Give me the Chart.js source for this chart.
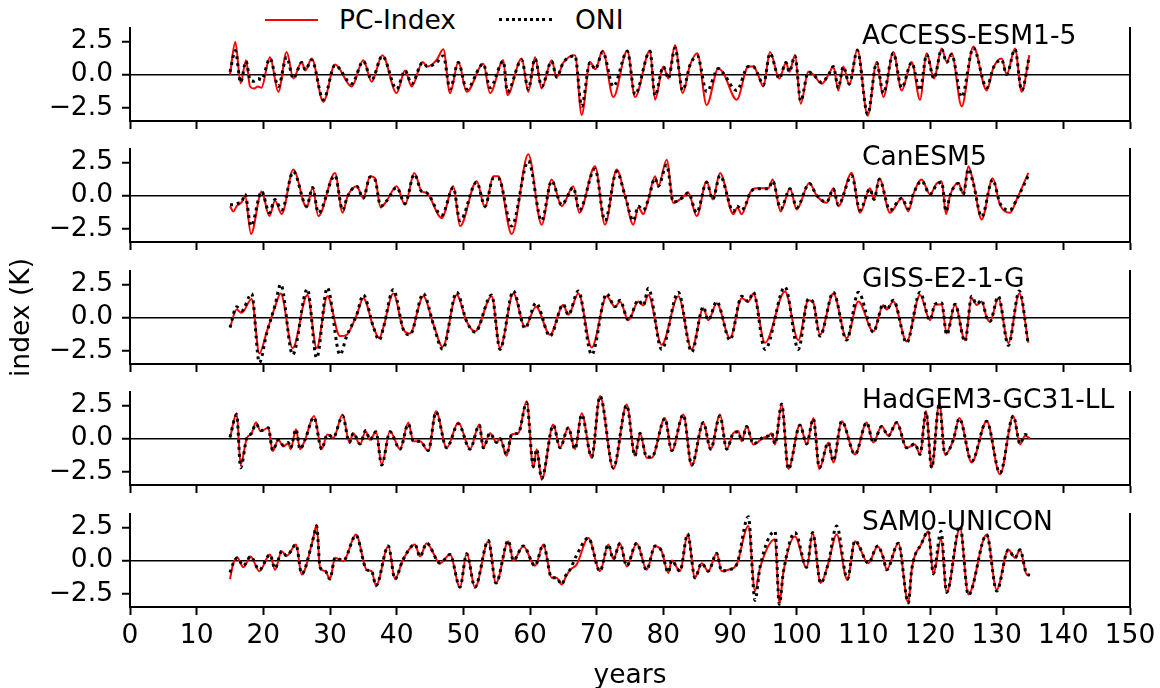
<!DOCTYPE html>
<html>
<head>
<meta charset="utf-8">
<script src="https://cdn.jsdelivr.net/npm/chart.js@4.4.0/dist/chart.umd.min.js"></script>
<style>
  body { margin: 0; background: #fff; }
  #wrap { position: relative; width: 1160px; height: 688px; overflow: hidden; font-family: "DejaVu Sans", sans-serif; }
  #wrap canvas { position: absolute; left: 0; }
  .name { position: absolute; left: 862px; font-size: 26.5px; line-height: 1; color: #000; white-space: nowrap; z-index: 5; }
  .leg-text { position: absolute; font-size: 26.5px; line-height: 1; color: #000; white-space: nowrap; }
  .leg-line { position: absolute; height: 0; width: 53px; }
</style>
</head>
<body>
<div id="wrap">
  <div class="leg-line" style="left:265px; top:19px; border-top:2px solid #ff0000;"></div>
  <div class="leg-text" style="left:339px; top:7px;">PC-Index</div>
  <div class="leg-line" style="left:499px; top:18px; border-top:3px dotted #000;"></div>
  <div class="leg-text" style="left:575px; top:7px;">ONI</div>
</div>
<script>
// ---- data (turning points of each curve) ----
const panelNames = ['ACCESS-ESM1-5', 'CanESM5', 'GISS-E2-1-G', 'HadGEM3-GC31-LL', 'SAM0-UNICON'];

const accessYears = [15.0, 15.8, 16.6, 17.4, 18.0, 18.6, 19.2, 19.7, 21.0, 22.25,
  23.5, 24.5, 25.75, 26.3, 27.25, 29.0, 30.75, 33.25, 35.0, 36.25,
  37.85, 40.0, 41.25, 42.25, 43.9, 44.6, 46.0, 47.0, 48.0, 49.25,
  50.5, 53.0, 54.0, 56.0, 56.6, 58.75, 59.75, 60.75, 61.75, 63.25,
  64.0, 65.0, 66.75, 67.75, 69.0, 69.8, 70.9, 72.5, 74.6, 75.75,
  78.0, 78.75, 80.0, 80.75, 81.75, 82.9, 84.0, 85.1, 86.5, 88.25,
  89.0, 91.0, 92.75, 93.5, 94.2, 95.0, 96.0, 97.4, 98.4, 98.9,
  99.75, 100.6, 101.75, 102.5, 103.75, 104.8, 105.5, 106.25, 107.0, 107.9,
  109.1, 110.65, 112.0, 113.0, 114.5, 115.75, 117.25, 118.5, 119.5, 120.6,
  121.75, 122.5, 123.25, 124.75, 126.5, 128.5, 129.5, 130.75, 131.5, 132.75,
  133.75, 134.9];
const accessPc = [0.0, 2.45, -0.65, 1.07, -0.9, -1.05, -0.9, -1.0, 1.3, -1.3,
  1.7, -0.3, 0.95, 0.3, 1.2, -2.05, 0.75, -0.9, 1.07, -0.55,
  1.45, -1.4, 0.3, -0.9, 0.95, 0.6, 1.1, 1.9, -1.4, 0.95,
  -1.3, 0.8, -1.4, 1.07, -1.55, 1.2, -1.3, 1.3, -1.05, 1.07,
  -0.2, 0.9, 1.45, -3.05, 0.95, 0.4, 1.8, -1.7, 1.8, -1.7,
  1.8, -1.9, 0.6, -0.3, 2.2, -1.4, 0.7, 1.6, -2.3, 0.45,
  0.1, -1.9, 0.6, 0.6, 0.0, -0.9, 1.7, -0.3, 0.9, 0.2,
  1.45, -2.2, 0.2, 0.0, -0.7, 0.0, 0.6, -1.2, 0.6, -0.8,
  1.9, -3.1, 0.95, -1.7, 1.7, -1.2, 0.95, -1.9, 1.6, -0.3,
  1.95, 0.95, 1.6, -2.4, 2.1, -1.2, 0.5, 1.2, 0.0, 1.95,
  -1.3, 1.45];
const accessOni = [0.2, 1.8, -0.6, 1.0, -0.4, -0.5, -0.3, -0.4, 1.2, -0.9,
  1.3, -0.3, 0.9, 0.35, 1.1, -1.9, 0.7, -0.7, 1.0, -0.4,
  1.4, -1.1, 0.3, -0.7, 0.9, 0.6, 0.9, 1.4, -1.1, 0.9,
  -1.1, 0.8, -1.0, 1.0, -1.3, 1.1, -1.1, 1.2, -0.9, 1.0,
  -0.2, 0.9, 1.4, -2.4, 0.9, 0.4, 1.7, -0.9, 1.75, -1.5,
  1.75, -1.6, 0.6, -0.3, 2.0, -1.2, 0.7, 1.4, -1.3, 0.45,
  0.1, -1.2, 0.6, 0.6, 0.0, -0.8, 1.6, -0.3, 0.9, 0.2,
  1.4, -2.0, 0.2, 0.0, -0.6, 0.0, 0.6, -1.0, 0.6, -0.7,
  1.8, -3.0, 0.9, -1.4, 1.6, -1.0, 0.9, -1.2, 1.5, -0.3,
  1.9, 0.9, 1.5, -1.7, 2.0, -1.0, 0.5, 1.1, 0.0, 1.9,
  -1.2, 1.4];

const canYears = [15.0, 15.5, 16.0, 16.75, 17.25, 18.15, 19.75, 20.9, 21.75, 22.75,
  24.5, 26.5, 27.4, 28.25, 30.75, 31.9, 32.6, 34.0, 35.0, 36.0,
  36.75, 37.6, 38.5, 40.0, 41.25, 42.65, 43.75, 44.5, 46.75, 48.5,
  49.5, 52.0, 53.25, 54.5, 55.25, 57.25, 59.75, 61.75, 63.25, 64.75,
  66.5, 67.4, 69.75, 71.25, 73.0, 74.25, 75.5, 76.25, 77.0, 77.75,
  78.75, 79.25, 80.5, 81.5, 82.75, 83.75, 85.0, 86.5, 87.4, 88.5,
  90.5, 91.1, 91.75, 92.5, 93.0, 94.0, 95.75, 96.4, 97.6, 99.0,
  100.0, 101.9, 103.0, 104.5, 105.5, 106.25, 108.25, 109.5, 111.0, 111.6,
  112.4, 114.0, 115.75, 116.75, 117.5, 118.75, 120.0, 121.0, 121.75, 122.4,
  123.0, 124.25, 125.0, 125.75, 126.5, 127.75, 129.4, 130.5, 132.0, 133.0,
  134.75];
const canPc = [-0.8, -1.2, -0.8, -0.5, 0.0, -2.9, 0.3, -1.55, -0.4, -1.4,
  1.95, -0.9, 0.6, -1.55, 1.7, -1.3, -0.1, 0.7, -0.2, 1.45,
  1.3, -0.9, -0.4, 0.7, -0.7, 1.7, 0.3, 0.2, -1.7, 0.7,
  -2.3, 1.07, -0.9, 1.45, 1.45, -2.9, 3.1, -2.2, 1.2, -0.8,
  0.7, -1.3, 2.2, -2.2, 1.95, 0.0, -2.2, -0.9, -1.4, -0.3,
  1.45, 0.7, 2.7, -0.55, -0.2, 0.2, -1.55, 1.07, -0.3, 1.7,
  -1.4, -0.9, -1.4, -0.55, 0.2, 0.55, 0.55, 1.2, -1.2, 0.55,
  -1.05, 0.95, 0.0, -0.55, 0.55, -0.8, 1.7, -1.3, 0.55, -0.3,
  1.3, -1.3, -0.2, -1.2, 0.1, 1.2, 0.1, 0.9, 1.07, -1.4,
  0.0, 0.95, 0.1, 2.2, 1.0, -1.8, 1.3, -0.7, -1.3, -0.3,
  1.7];
const canOni = [-0.7, -0.7, -0.6, -0.5, 0.1, -2.3, 0.3, -1.3, -0.3, -1.1,
  1.8, -0.8, 0.6, -1.3, 1.5, -1.1, -0.1, 0.7, -0.2, 1.4,
  1.2, -0.8, -0.4, 0.6, -0.6, 1.6, 0.3, 0.2, -1.5, 0.6,
  -1.9, 1.0, -0.8, 1.3, 1.3, -2.3, 2.6, -1.9, 1.1, -0.7,
  0.6, -1.1, 2.0, -1.9, 1.8, 0.0, -1.9, -0.8, -1.1, -0.3,
  1.3, 0.7, 2.3, -0.5, -0.2, 0.2, -1.3, 1.0, -0.3, 1.5,
  -1.2, -0.8, -1.1, -0.5, 0.2, 0.5, 0.5, 1.1, -1.0, 0.5,
  -0.9, 0.9, 0.0, -0.5, 0.5, -0.7, 1.5, -1.1, 0.5, -0.3,
  1.2, -1.1, -0.2, -1.0, 0.1, 1.1, 0.1, 0.8, 1.0, -1.2,
  0.0, 0.9, 0.1, 2.0, 0.9, -1.6, 1.2, -0.6, -1.1, -0.3,
  1.5];

const gissYears = [15.0, 16.0, 16.75, 18.25, 19.4, 20.5, 21.75, 22.6, 24.4, 26.6,
  28.0, 29.6, 31.5, 32.5, 34.0, 35.0, 36.5, 37.4, 38.0, 39.5,
  41.0, 42.0, 44.0, 45.5, 46.9, 49.0, 50.5, 51.75, 54.25, 55.5,
  57.5, 59.25, 60.9, 63.0, 65.0, 65.75, 67.25, 69.25, 71.5, 72.75,
  73.5, 74.75, 76.25, 77.0, 77.75, 79.75, 82.25, 84.25, 86.0, 86.75,
  88.0, 90.0, 91.75, 92.75, 93.5, 95.25, 98.25, 100.25, 101.75, 102.5,
  103.5, 105.5, 107.5, 109.25, 111.5, 113.0, 113.5, 114.5, 116.5, 118.5,
  120.0, 120.75, 121.75, 122.5, 123.75, 125.25, 126.25, 127.0, 127.75, 128.5,
  129.0, 130.25, 131.75, 133.4, 134.75];
const gissPc = [-0.75, 0.6, 0.35, 1.4, -2.7, -1.1, 0.8, 1.8, -2.3, 1.7,
  -2.3, 1.6, -1.4, -1.3, 0.2, 1.45, -0.7, -1.55, -0.75, 1.8,
  -0.9, -1.2, 1.6, -0.5, -2.2, 1.7, -0.3, -1.05, 1.6, -2.3,
  1.8, -0.7, 0.8, -1.3, 0.95, 0.2, 1.8, -2.25, 1.6, 0.8,
  1.2, -0.2, 1.2, 0.9, 1.7, -2.05, 1.6, -2.4, 0.7, -0.2,
  1.07, -1.55, 1.45, 1.2, 1.8, -1.9, 1.95, -1.7, 1.3, 1.1,
  -1.3, 1.8, -1.55, 1.2, -1.05, 0.95, 0.6, 1.2, -1.8, 1.7,
  -0.2, 0.95, 1.0, -1.2, 0.95, -1.7, 1.45, 0.95, 1.2, 0.0,
  -0.3, 1.45, -1.9, 1.8, -1.9];
const gissOni = [-0.75, 0.8, 0.5, 1.8, -3.4, -1.2, 0.9, 2.5, -2.8, 2.15,
  -3.05, 2.25, -2.8, -1.4, 0.2, 1.7, -0.7, -1.7, -0.8, 2.1,
  -0.9, -1.3, 1.8, -0.5, -2.4, 1.9, -0.3, -1.1, 1.7, -2.4,
  2.0, -0.8, 1.1, -1.4, 1.0, 0.2, 2.0, -2.8, 1.8, 0.8,
  1.3, -0.2, 1.3, 0.9, 2.2, -2.4, 1.9, -2.6, 0.8, -0.2,
  1.2, -1.7, 1.6, 1.2, 1.9, -2.4, 2.3, -2.4, 1.4, 1.1,
  -1.4, 1.9, -1.7, 1.9, -1.1, 1.0, 0.6, 1.3, -1.9, 1.9,
  -0.2, 1.0, 1.1, -1.3, 1.0, -1.8, 1.6, 1.0, 1.3, 0.0,
  -0.3, 1.6, -2.1, 2.0, -2.05];

const hadYears = [15.0, 16.0, 16.6, 17.5, 18.25, 18.9, 19.6, 20.75, 21.4, 22.25,
  23.0, 23.75, 24.1, 24.9, 25.5, 26.25, 27.6, 28.75, 29.6, 30.5,
  31.9, 32.9, 33.5, 34.5, 35.35, 36.0, 36.9, 37.75, 39.0, 40.5,
  41.75, 42.5, 43.5, 44.75, 45.9, 47.5, 49.25, 51.0, 52.4, 53.0,
  54.0, 55.0, 55.5, 56.5, 57.25, 58.25, 59.5, 60.5, 61.0, 61.75,
  63.5, 64.5, 65.75, 66.75, 67.75, 69.25, 70.5, 72.5, 74.5, 75.75,
  76.5, 77.5, 78.25, 80.25, 81.25, 83.0, 84.25, 86.0, 87.1, 88.5,
  89.5, 90.5, 91.25, 91.75, 92.5, 93.5, 95.0, 95.75, 96.25, 96.75,
  97.75, 98.75, 100.5, 101.5, 102.5, 103.4, 104.75, 105.5, 106.75, 108.75,
  110.5, 111.5, 112.75, 113.75, 115.0, 116.5, 117.75, 118.5, 119.4, 120.25,
  121.4, 122.25, 123.5, 124.4, 126.25, 128.5, 130.5, 132.5, 133.5, 134.25,
  135.0];
const hadPc = [0.05, 1.9, -1.95, 0.0, 0.4, 1.2, 0.55, 0.8, -0.95, -0.1,
  -0.6, -0.35, -0.8, 0.7, -0.8, -0.1, 1.7, -0.8, 0.3, 0.05,
  1.8, -0.3, 0.4, -0.45, 0.55, -0.1, 0.5, -1.95, 0.55, -0.8,
  1.2, -0.2, -0.2, -0.95, 2.05, -0.7, 1.2, -0.8, 1.05, -0.7,
  0.4, -0.3, 0.0, -1.3, 0.3, 0.4, 2.8, -2.2, -0.8, -3.1,
  1.05, -0.7, 0.8, -0.8, 1.9, -1.45, 3.2, -2.3, 2.55, -1.3,
  0.4, -1.45, -1.45, 1.55, -0.95, 1.8, -2.05, 1.2, -0.8, 1.8,
  -0.8, 0.4, 0.55, -0.2, 0.95, -0.45, 0.05, 0.2, 0.4, -0.45,
  2.55, -2.3, 1.05, -0.45, 1.55, -2.3, -0.3, -1.8, 1.3, -1.2,
  1.2, -0.3, 0.95, 0.2, 1.2, -0.7, -0.45, -1.2, 2.05, -2.2,
  2.7, -1.2, -0.1, 1.55, -1.8, 1.3, -2.7, 1.7, -0.45, 0.2,
  0.0];
const hadOni = [0.1, 1.8, -2.2, 0.0, 0.4, 1.1, 0.6, 0.8, -0.9, -0.1,
  -0.5, -0.3, -0.7, 0.7, -0.8, -0.1, 1.6, -0.8, 0.3, 0.1,
  1.7, -0.3, 0.4, -0.4, 0.6, -0.1, 0.5, -2.0, 0.5, -0.8,
  1.1, -0.2, -0.2, -0.9, 2.0, -0.7, 1.1, -0.8, 1.0, -0.7,
  0.4, -0.3, 0.0, -1.2, 0.3, 0.4, 2.7, -2.1, -0.8, -3.0,
  1.0, -0.7, 0.8, -0.8, 1.8, -1.4, 3.2, -2.2, 2.5, -1.3,
  0.4, -1.4, -1.4, 1.5, -0.9, 1.8, -2.0, 1.2, -0.8, 1.7,
  -0.8, 0.4, 0.5, -0.2, 0.9, -0.4, 0.1, 0.2, 0.4, -0.4,
  2.6, -2.3, 1.0, -0.4, 1.5, -2.2, -0.3, -1.7, 1.3, -1.2,
  1.2, -0.3, 0.9, 0.2, 1.2, -0.7, -0.4, -1.2, 2.0, -2.2,
  2.6, -1.2, -0.1, 1.5, -1.7, 1.3, -2.6, 1.7, -0.4, 0.3,
  0.1];

const samYears = [15.0, 15.5, 16.1, 17.0, 18.1, 19.4, 21.0, 21.75, 22.75, 23.5,
  24.9, 25.75, 27.25, 27.6, 28.0, 28.5, 29.3, 30.0, 30.75, 32.0,
  33.9, 35.5, 36.25, 36.9, 38.75, 39.75, 40.9, 42.75, 43.5, 44.5,
  46.5, 48.0, 49.5, 50.5, 51.75, 53.75, 54.9, 56.75, 57.5, 59.0,
  60.75, 62.0, 63.25, 64.0, 64.75, 65.4, 66.0, 67.0, 68.75, 70.5,
  71.75, 72.5, 73.5, 74.5, 76.0, 77.5, 78.75, 79.75, 80.75, 81.25,
  82.5, 83.65, 84.75, 85.75, 86.75, 88.0, 88.75, 89.75, 91.0, 92.75,
  93.75, 94.5, 96.75, 97.4, 98.0, 99.75, 101.5, 102.4, 103.6, 104.75,
  106.0, 107.6, 108.75, 110.75, 112.15, 113.0, 113.5, 115.25, 116.75, 117.25,
  118.75, 119.75, 120.5, 121.65, 122.5, 124.5, 125.75, 128.5, 130.0, 131.75,
  132.75, 133.5, 134.5, 135.0];
const samPc = [-1.4, -0.2, 0.2, -0.5, 0.3, -0.8, 0.45, -0.7, 0.7, 0.35,
  1.2, -1.05, 1.2, 1.95, 2.7, -0.55, -0.8, -1.4, 0.2, -0.05,
  1.95, -0.7, -0.8, -1.9, 1.07, -1.4, 0.0, 1.2, 0.3, 1.3,
  -0.2, 0.45, -2.05, 0.55, -2.05, 1.45, -1.7, 1.45, 0.0, 1.07,
  -0.4, 1.2, -1.3, -1.3, -1.8, -1.2, -0.7, -0.3, 1.7, -0.8,
  1.2, 0.1, 1.3, -0.45, 1.3, -0.7, 1.07, 0.7, -0.95, 0.0,
  -0.8, 1.95, -1.3, -0.2, -0.8, 0.55, -0.8, -0.7, -0.3, 2.6,
  -2.3, -0.55, 1.6, -3.3, -0.9, 1.8, -0.55, 2.05, -1.7, -0.2,
  1.95, -1.45, 1.45, -0.2, 1.07, 0.2, -0.7, 1.3, -3.2, -0.7,
  1.3, 2.2, -1.05, 1.6, -2.4, 2.45, -2.55, 1.95, -2.2, 0.8,
  0.2, 0.8, -1.05, -1.1];
const samOni = [-0.9, -0.2, 0.2, -0.4, 0.3, -0.7, 0.45, -0.6, 0.7, 0.35,
  1.2, -1.0, 1.2, 1.9, 2.6, -0.5, -0.8, -1.4, 0.2, 0.0,
  1.9, -0.7, -0.8, -1.9, 1.1, -1.4, 0.0, 1.2, 0.3, 1.3,
  -0.2, 0.45, -2.0, 0.5, -2.0, 1.5, -1.7, 1.5, 0.0, 1.1,
  -0.4, 1.2, -1.3, -1.3, -1.8, -1.1, -0.7, 0.4, 1.7, -0.8,
  1.2, 0.1, 1.3, -0.4, 1.3, -0.7, 1.1, 0.7, -0.9, 0.0,
  -0.8, 2.0, -1.3, -0.2, -0.8, 0.55, -0.8, -0.7, -0.3, 3.3,
  -3.0, -0.5, 2.2, -3.3, -0.9, 2.1, -0.5, 2.1, -1.7, -0.2,
  2.6, -1.4, 1.5, -0.2, 1.1, 0.2, -0.7, 1.3, -3.2, -0.7,
  1.3, 2.2, -1.0, 2.2, -2.4, 2.6, -2.6, 1.95, -2.3, 0.8,
  0.2, 0.8, -1.0, -1.1];

const yTickValues = [-2.5, 0, 2.5];
const xMin = 0, xMax = 150, xStep = 10;

// ---- layout ----
const FONT = 'DejaVu Sans';
const FS = 26.5;
const panelTops = [28, 149, 271, 392, 514];
const plotH = 93;
const padTop = 20;
const wrap = document.getElementById('wrap');

const series = [
  [accessYears, accessPc, accessOni],
  [canYears, canPc, canOni],
  [gissYears, gissPc, gissOni],
  [hadYears, hadPc, hadOni],
  [samYears, samPc, samOni]
];

function fmt(v) {
  return (v < 0 ? '\u2212' : '') + Math.abs(v).toFixed(1);
}

function makePanel(i) {
  const [years, pc, oni] = series[i];
  const last = i === series.length - 1;
  // bottom panel's canvas runs a few px past the page so "years" sits low enough
  const axisH = last ? 692 - (panelTops[i] + plotH) : 12;

  const cv = document.createElement('canvas');
  cv.width = 1160;
  cv.height = padTop + plotH + axisH;
  cv.style.top = (panelTops[i] - padTop) + 'px';
  wrap.appendChild(cv);

  const name = document.createElement('div');
  name.className = 'name';
  name.textContent = panelNames[i];
  name.style.top = (panelTops[i] - 5.7) + 'px';
  wrap.appendChild(name);

  new Chart(cv, {
    type: 'line',
    data: {
      datasets: [
        {
          label: 'PC-Index',
          data: years.map((x, k) => ({ x: x, y: pc[k] })),
          borderColor: '#ff0000',
          borderWidth: 2,
          pointRadius: 0,
          cubicInterpolationMode: 'monotone',
          order: 1
        },
        {
          label: 'ONI',
          data: years.map((x, k) => ({ x: x, y: oni[k] })),
          borderColor: '#000000',
          borderWidth: 3,
          borderDash: [3, 4],
          borderCapStyle: 'butt',
          pointRadius: 0,
          cubicInterpolationMode: 'monotone',
          order: 0
        }
      ]
    },
    options: {
      responsive: false,
      animation: false,
      devicePixelRatio: 1,
      layout: { padding: { top: padTop, right: 30, bottom: 0, left: 0 } },
      plugins: { legend: { display: false }, tooltip: { enabled: false } },
      scales: {
        x: {
          type: 'linear',
          min: xMin,
          max: xMax,
          ticks: {
            display: last,
            stepSize: xStep,
            autoSkip: false,
            maxRotation: 0,
            padding: 5,
            color: '#000',
            font: { family: FONT, size: FS }
          },
          grid: { drawOnChartArea: false, tickLength: 8, tickColor: '#000', tickWidth: 2 },
          border: { color: '#000', width: 2 },
          title: {
            display: last,
            text: 'years',
            color: '#000',
            font: { family: FONT, size: FS },
            padding: { top: 4, bottom: 0 }
          },
          afterFit: s => { s.height = axisH; s.paddingLeft = 0; s.paddingRight = 0; }
        },
        y: {
          min: -3.5,
          max: 3.5,
          afterBuildTicks: s => { s.ticks = yTickValues.map(v => ({ value: v })); },
          ticks: {
            padding: 9,
            color: '#000',
            font: { family: FONT, size: FS },
            callback: v => fmt(v)
          },
          grid: {
            color: c => (c.tick && c.tick.value === 0) ? '#000' : 'rgba(0,0,0,0)',
            lineWidth: 1.5,
            tickColor: '#000',
            tickLength: 8,
            tickWidth: 2
          },
          border: { color: '#000', width: 2 },
          title: {
            display: i === 2,
            text: 'index (K)',
            color: '#000',
            font: { family: FONT, size: FS },
            padding: { top: 6, bottom: 0 }
          },
          afterFit: s => { s.width = 130; s.paddingTop = 0; s.paddingBottom = 0; }
        },
        yR: {
          position: 'right',
          min: -3.5,
          max: 3.5,
          ticks: { display: false },
          grid: { display: false, drawTicks: false },
          border: { display: true, color: '#000', width: 2 },
          afterFit: s => { s.width = 0; s.paddingTop = 0; s.paddingBottom = 0; }
        }
      }
    }
  });
}

for (let i = 0; i < series.length; i++) makePanel(i);
</script>
</body>
</html>
